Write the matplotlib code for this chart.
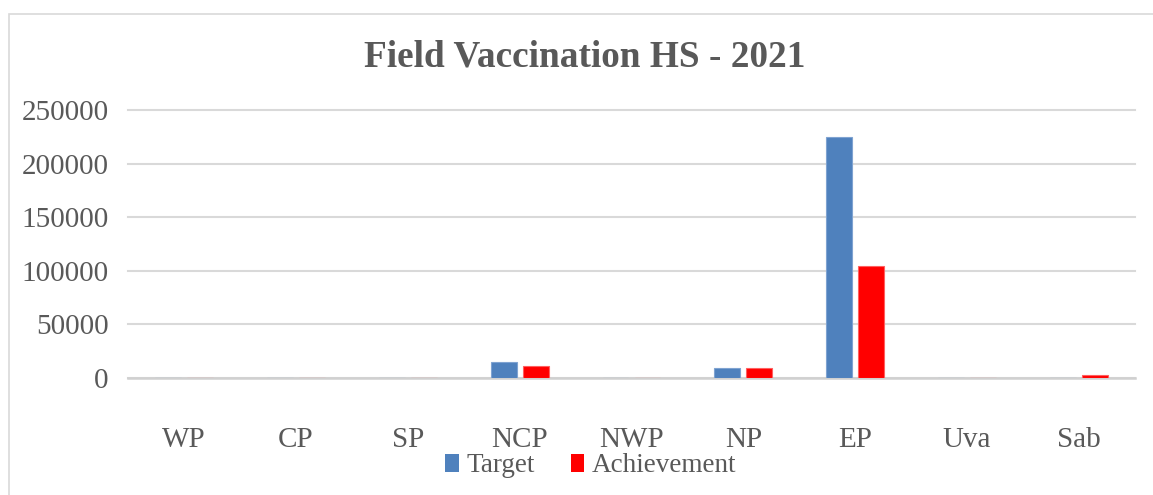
import numpy as np
import matplotlib.pyplot as plt
from matplotlib.patches import Patch, Rectangle

# data
provinces = ['WP', 'CP', 'SP', 'NCP', 'NWP', 'NP', 'EP', 'Uva', 'Sab']
target = [0, 0, 0, 14600, 0, 9500, 225000, 0, 0]
achievement = [0, 0, 0, 11200, 0, 9500, 104500, 0, 2800]
y_ticks = [0, 50000, 100000, 150000, 200000, 250000]

blue = '#4F81BD'
red = '#FF0000'
grey_text = '#595959'
serif = ['Liberation Serif', 'DejaVu Serif']

plt.rcParams['font.family'] = serif

fig = plt.figure(figsize=(11.53, 4.95), dpi=100)
ax = fig.add_axes([128 / 1153, 1 - 378 / 495, (1135 - 128) / 1153, (378 - 110) / 495])

# chart frame
fig.patches.append(Rectangle((9 / 1153, -0.1), 1.2, 1 - 14 / 495 + 0.1,
                             transform=fig.transFigure, fill=False,
                             edgecolor='#D9D9D9', linewidth=1.2))

x = np.arange(len(provinces))
w = 0.232
off = 0.143
ax.bar(x - off, target, w, color=blue, edgecolor='#7FA3D1', linewidth=0.8, zorder=3)
ax.bar(x + off, achievement, w, color=red, edgecolor='#FF6060', linewidth=0.8, zorder=3)

ax.set_xlim(-0.5, len(provinces) - 0.5)
ax.set_ylim(0, 250000)
ax.set_yticks(y_ticks)
ax.set_yticklabels([str(v) for v in y_ticks])
ax.set_xticks(x)
ax.set_xticklabels(provinces)
ax.tick_params(axis='both', length=0, labelsize=21, labelcolor=grey_text)
ax.tick_params(axis='y', pad=14)
ax.tick_params(axis='x', pad=35)

ax.grid(axis='y', color='#D9D9D9', linewidth=1.5, zorder=0)
for gl in ax.yaxis.get_gridlines():
    gl.set_clip_on(False)
for s in ['top', 'right', 'left']:
    ax.spines[s].set_visible(False)
ax.spines['bottom'].set_color('#D0D0D0')
ax.spines['bottom'].set_linewidth(1.8)

fig.text(585 / 1153, 1 - 57 / 495, 'Field Vaccination HS - 2021', ha='center', va='center',
         fontsize=26.8, fontweight='bold', color=grey_text)

handles = [Patch(facecolor=blue), Patch(facecolor=red)]
fig.legend(handles, ['Target', 'Achievement'], loc='center', bbox_to_anchor=(591 / 1153, 1 - 466 / 495),
           ncol=2, frameon=False, fontsize=19.5, handlelength=0.5, handleheight=0.65,
           handletextpad=0.3, columnspacing=1.3, labelcolor=grey_text)

fig.savefig('out.png', dpi=100)
